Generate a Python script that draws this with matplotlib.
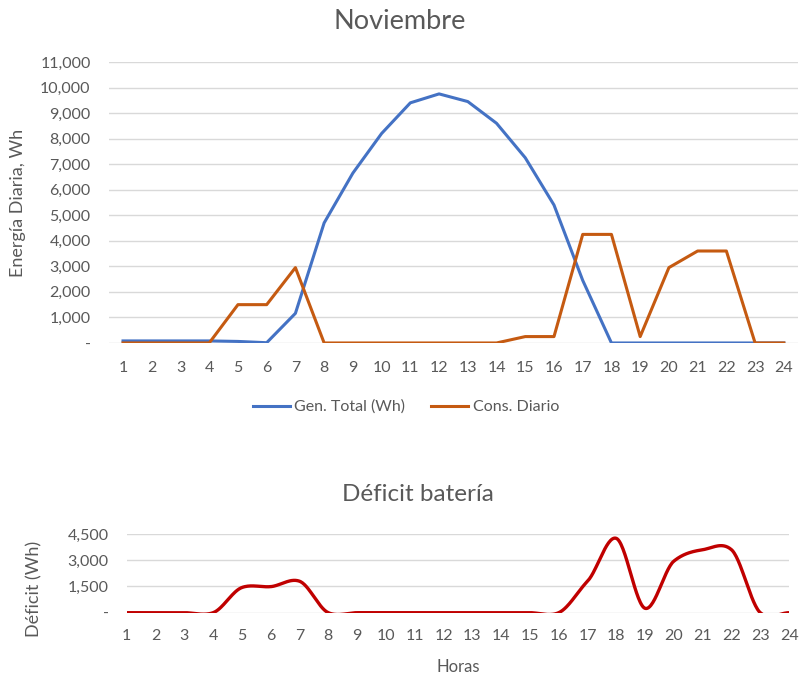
import numpy as np
import matplotlib
matplotlib.use("Agg")
import matplotlib.pyplot as plt
from matplotlib.ticker import FuncFormatter

plt.rcParams['font.family'] = ['Lato', 'DejaVu Sans']

horas = list(range(1, 25))
gen_total = [80, 80, 80, 80, 60, 10, 1160, 4700, 6650, 8200, 9400, 9750,
             9450, 8600, 7250, 5400, 2450, 0, 0, 0, 0, 0, 0, 0]
cons_diario = [0, 0, 0, 0, 1500, 1500, 2950, 0, 0, 0, 0, 0,
               0, 0, 250, 250, 4250, 4250, 250, 2950, 3600, 3600, 0, 0]
deficit = [0, 0, 0, 0, 1440, 1490, 1800, 0, 0, 0, 0, 0,
           0, 0, 0, 0, 1800, 4250, 250, 2950, 3600, 3600, 0, 0]

GRAY = "#595959"
GRID = "#D9D9D9"
FS = 11.5


def smooth(x, y, n=30, k=0.4):
    # hermite spline through the points, like excel's smoothed line
    x = np.asarray(x, float)
    y = np.asarray(y, float)
    xs, ys = [], []
    for i in range(len(x) - 1):
        p0 = y[i - 1] if i > 0 else y[i]
        p3 = y[i + 2] if i + 2 < len(y) else y[i + 1]
        p1, p2 = y[i], y[i + 1]
        t = np.linspace(0, 1, n, endpoint=False)
        m1 = (p2 - p0) * k
        m2 = (p3 - p1) * k
        h00 = 2 * t**3 - 3 * t**2 + 1
        h10 = t**3 - 2 * t**2 + t
        h01 = -2 * t**3 + 3 * t**2
        h11 = t**3 - t**2
        xs.append(x[i] + t * (x[i + 1] - x[i]))
        ys.append(h00 * p1 + h10 * m1 + h01 * p2 + h11 * m2)
    xs.append([x[-1]])
    ys.append([y[-1]])
    return np.concatenate(xs), np.concatenate(ys)


def acct(v, pos):
    return "-" if abs(v) < 1e-9 else f"{v:,.0f}"


fig = plt.figure(figsize=(7.99, 6.75), dpi=100)

# top chart
ax1 = fig.add_axes([0.136, 0.4919, 0.863, 0.4163])
ax1.plot(horas, gen_total, color="#4472C4", lw=2.2, label="Gen. Total (Wh)", zorder=3)
ax1.plot(horas, cons_diario, color="#C55A11", lw=2.2, label="Cons. Diario", zorder=3)
ax1.set_xlim(0.5, 24.5)
ax1.set_ylim(0, 11000)
ax1.set_yticks(range(0, 11001, 1000))
ax1.set_xticks(horas)
ax1.yaxis.set_major_formatter(FuncFormatter(acct))
ax1.grid(axis="y", color=GRID, lw=1)
ax1.set_axisbelow(True)
for s in ax1.spines.values():
    s.set_visible(False)
ax1.tick_params(length=0, labelsize=FS, colors=GRAY, pad=13)
ax1.tick_params(axis="y", pad=13)
ax1.set_ylabel("Energía Diaria, Wh", color=GRAY, fontsize=13)
ax1.yaxis.set_label_coords(-0.12, 0.5)
fig.text(0.5, 0.968, "Noviembre", ha="center", va="center", fontsize=19.5, color=GRAY)
fig.legend(loc="center", bbox_to_anchor=(0.508, 0.397), ncol=2, frameon=False,
           fontsize=FS, labelcolor=GRAY, handlelength=2.3, columnspacing=1.6,
           handletextpad=0.3)

# bottom chart
ax2 = fig.add_axes([0.1586, 0.0923, 0.829, 0.1166])
xs, ys = smooth(horas, deficit)
ax2.plot(xs, ys, color="#C00000", lw=2.4, zorder=3)
ax2.set_xlim(1, 24)
ax2.set_ylim(0, 4500)
ax2.set_yticks([0, 1500, 3000, 4500])
ax2.set_xticks(horas)
ax2.yaxis.set_major_formatter(FuncFormatter(acct))
ax2.grid(axis="y", color=GRID, lw=1)
ax2.set_axisbelow(True)
for s in ax2.spines.values():
    s.set_visible(False)
ax2.tick_params(length=0, labelsize=FS, colors=GRAY, pad=12)
ax2.tick_params(axis="y", pad=13)
ax2.set_xlabel("Horas", color=GRAY, fontsize=12, labelpad=11)
ax2.set_ylabel("Déficit (Wh)", color=GRAY, fontsize=13)
ax2.yaxis.set_label_coords(-0.127, 0.3)
fig.text(0.523, 0.268, "Déficit batería", ha="center", va="center", fontsize=17.5, color=GRAY)

fig.savefig("out.png", dpi=100)
